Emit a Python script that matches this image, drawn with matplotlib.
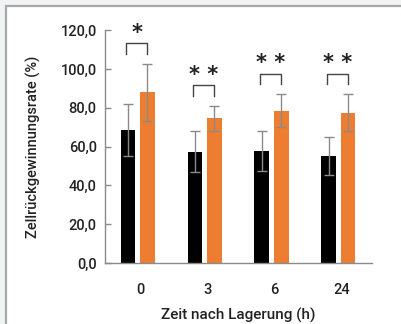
import numpy as np
import matplotlib.pyplot as plt
from matplotlib.patches import Rectangle

# Werte
zeiten = ['0', '3', '6', '24']
kontrolle = [68.5, 57.3, 57.5, 55.3]
kontrolle_sd = [13.5, 10.5, 10.3, 9.7]
behandelt = [88.0, 74.5, 78.5, 77.5]
behandelt_sd = [14.8, 6.5, 8.5, 9.6]
signifikanz = ['*', '* *', '* *', '* *']

plt.rcParams['font.family'] = ['Roboto', 'DejaVu Sans']
plt.rcParams['font.weight'] = 'medium'
plt.rcParams['axes.labelweight'] = 'medium'

fig = plt.figure(figsize=(4.01, 3.24), dpi=100, facecolor='#f1f2f4')
# white panel with grey frame on left and top
fig.patches.append(Rectangle((6 / 401, -0.1), 1.1, 1.1 - 6 / 324,
                             transform=fig.transFigure, facecolor='white',
                             edgecolor='#a8a8a8', linewidth=1.6, zorder=-5))

ax = fig.add_axes([0.262, 0.188, 0.666, 0.719])
ax.set_facecolor('none')

x = np.arange(len(zeiten))
w = 0.22
x_k = x - 0.045 - 0.145
x_b = x - 0.045 + 0.145

err_kw = dict(ecolor='#8a8a8a', elinewidth=1.0, capsize=3.5, capthick=1.0)
ax.bar(x_k, kontrolle, w, color='black', yerr=kontrolle_sd, error_kw=err_kw, zorder=2)
ax.bar(x_b, behandelt, w, color='#ed7d31', yerr=behandelt_sd, error_kw=err_kw, zorder=2)

# significance brackets
for i, s in enumerate(signifikanz):
    y0 = behandelt[i] + behandelt_sd[i] + 5
    y1 = y0 + 5.5
    xl = x_k[i] - 0.03
    xr = x_b[i]
    ax.plot([xl, xl, xr, xr], [y0, y1, y1, y0], color='#444444', lw=1.0, zorder=3)
    ax.text((xl + xr) / 2, y1 + 0.3, s, ha='center', va='bottom',
            fontsize=15, fontweight='bold', color='#222222', family='DejaVu Sans')

ax.set_xlim(-0.534, 3.46)
ax.set_ylim(0, 120)
ax.set_xticks(x)
ax.set_xticklabels(zeiten)
yt = np.arange(0, 121, 20)
ax.set_yticks(yt)
ax.set_yticklabels([f'{v:.1f}'.replace('.', ',') for v in yt])

for side in ['top', 'right']:
    ax.spines[side].set_visible(False)
for side in ['left', 'bottom']:
    ax.spines[side].set_color('#8a8a8a')
    ax.spines[side].set_linewidth(1.0)

ax.tick_params(axis='y', direction='in', length=4, width=1.0, color='#8a8a8a',
               pad=6, labelsize=10.5, labelcolor='#222222')
ax.tick_params(axis='x', length=0, pad=14, labelsize=10.5, labelcolor='#222222')

ax.set_xlabel('Zeit nach Lagerung (h)', fontsize=11, color='#222222', labelpad=8)
ax.set_ylabel('Zellrückgewinnungsrate (%)', fontsize=10.5, color='#222222', labelpad=14)

fig.savefig('out.png', dpi=100, facecolor=fig.get_facecolor())
